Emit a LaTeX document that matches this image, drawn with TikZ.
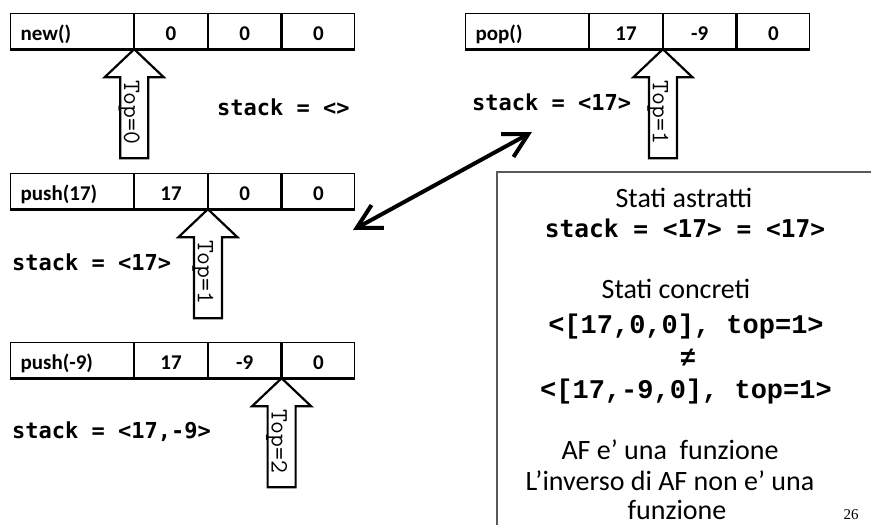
\documentclass[tikz,border=0pt]{standalone}
\usepackage{fontspec}
\setmainfont{Carlito}
\newfontfamily\codefont{DejaVu Sans Mono}
\newfontfamily\courfont{Liberation Mono}
\newfontfamily\pagefont{Liberation Serif}
\usetikzlibrary{arrows.meta}

\tikzset{
  cell/.style={draw, line width=1.2pt, minimum height=35pt, inner sep=0pt,
    anchor=north west, text height=20pt, text depth=2pt,
    font=\fontsize{21}{24}\selectfont\bfseries},
  opcell/.style={cell, minimum width=123pt, text width=103pt, inner xsep=10pt, align=left},
  valcell/.style={cell, minimum width=72.5pt},
  baseline rule/.style={line width=3pt},
  blockarrow/.style={draw, fill=white, line width=2.2pt, line join=miter},
  toplabel/.style={rotate=-90, inner sep=0pt, font=\ttfamily\fontsize{25}{25}\selectfont},
  codetext/.style={inner sep=0pt, anchor=base west, font=\codefont\bfseries\fontsize{22}{24}\selectfont},
  notetext/.style={inner sep=0pt, anchor=base, font=\fontsize{28}{32}\selectfont},
  notecode/.style={inner sep=0pt, anchor=base, font=\codefont\bfseries\fontsize{24.5}{28}\selectfont},
  notecour/.style={inner sep=0pt, anchor=base, font=\courfont\bfseries\fontsize{27}{30}\selectfont},
  boxline/.style={draw=black!65, line width=1.4pt},
  dblarrow/.style={line width=4pt, line cap=round,
    {Straight Barb[length=24pt,width=26pt]}-{Straight Barb[length=24pt,width=26pt]}},
  pics/toparrow/.style={code={
    \draw[blockarrow] (0,0) -- (29.5,28) -- (14,28) -- (14,109) -- (-14,109)
      -- (-14,28) -- (-29.5,28) -- cycle;
    \node[toplabel] (-lbl) at (-5,63) {#1};
  }}
}

\begin{document}
\begin{tikzpicture}[x=1pt,y=-1pt]
\path[use as bounding box, fill=white] (0,0) rectangle (871,525);

% new()
\node[opcell]  (a0) at (10,13) {new()};
\node[valcell] (a1) at (a0.north east) {0};
\node[valcell] (a2) at (a1.north east) {0};
\node[valcell] (a3) at (a2.north east) {0};
\draw[baseline rule] (a0.south west) -- (a3.south east);

% pop()
\node[opcell]  (b0) at (465,13) {pop()};
\node[valcell] (b1) at (b0.north east) {17};
\node[valcell] (b2) at (b1.north east) {-9};
\node[valcell] (b3) at (b2.north east) {0};
\draw[baseline rule] (b0.south west) -- (b3.south east);

% push(17)
\node[opcell]  (c0) at (10,173) {push(17)};
\node[valcell] (c1) at (c0.north east) {17};
\node[valcell] (c2) at (c1.north east) {0};
\node[valcell] (c3) at (c2.north east) {0};
\draw[baseline rule] (c0.south west) -- (c3.south east);

% push(-9)
\node[opcell]  (d0) at (10,342) {push(-9)};
\node[valcell] (d1) at (d0.north east) {17};
\node[valcell] (d2) at (d1.north east) {-9};
\node[valcell] (d3) at (d2.north east) {0};
\draw[baseline rule] (d0.south west) -- (d3.south east);

% top pointers
\pic (ta) at (a0.south east) {toparrow={Top=0}};
\pic (tb) at (b1.south east) {toparrow={Top=1}};
\pic (tc) at (c1.south east) {toparrow={Top=1}};
\pic (td) at (d2.south east) {toparrow={Top=2}};

% abstract values
\node[codetext] (sa) at (217,115) {stack = <>};
\node[codetext] (sb) at (472,110) {stack = <17>};
\node[codetext] (sc) at (12,270) {stack = <17>};
\node[codetext] (sd) at (12,438) {stack = <17,-9>};

% correspondence arrow
\coordinate (dl) at (353,230);
\coordinate (dr) at (532,132);
\draw[dblarrow] (dl) -- (dr);

% note box
\draw[boxline] (880,172) -- (497,172) -- (497,540);
\node[notetext] (n1) at (684,207) {Stati astratti};
\node[notecode] (n2) at (685,237) {stack = <17> = <17>};
\node[notetext] (n3) at (676,298) {Stati concreti};
\node[notecour] (n4) at (686,333) {<[17,0,0], top=1>};
\node[notecour] (n5) at (688,366) {≠};
\node[notecour] (n6) at (686,398) {<[17,-9,0], top=1>};
\node[notetext] (n7) at (670,459) {AF e’ una\ \ funzione};
\node[notetext] (n8) at (670,490) {L’inverso di AF non e’ una};
\node[notetext] (n9) at (677,519) {funzione};
\node[inner sep=0pt, anchor=base, font=\pagefont\fontsize{15}{17}\selectfont] (pg) at (851,519) {26};
\end{tikzpicture}
\end{document}
